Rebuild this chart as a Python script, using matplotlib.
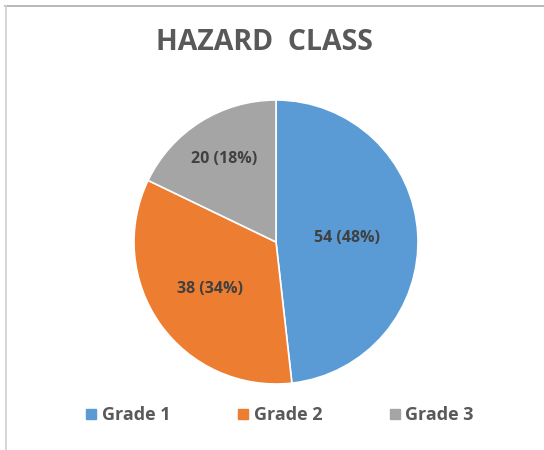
import numpy as np
import matplotlib.pyplot as plt
from matplotlib.lines import Line2D

# data
labels = ["Grade 1", "Grade 2", "Grade 3"]
values = [54, 38, 20]
colors = ["#5B9BD5", "#ED7D31", "#A5A5A5"]
label_dist = [0.5, 0.57, 0.69]

plt.rcParams['font.family'] = ['Open Sans', 'DejaVu Sans']

fig = plt.figure(figsize=(5.44, 4.5), dpi=100)
fig.patch.set_facecolor("white")

# chart frame (top and left edges visible)
fig.add_artist(Line2D([5/544, 1], [1-6/450, 1-6/450], color="#ABABAB", lw=1.2))
fig.add_artist(Line2D([5.5/544, 5.5/544], [0, 1-6/450], color="#D0D0D0", lw=1.2))

ax = fig.add_axes([134/544, 66/450, 284/544, 284/450])
wedges, _ = ax.pie(values, colors=colors, startangle=90, counterclock=False,
                   wedgeprops=dict(edgecolor="white", linewidth=1.2))
ax.set_xlim(-1, 1)
ax.set_ylim(-1, 1)
ax.set_aspect("equal")

total = sum(values)
for w, v, d in zip(wedges, values, label_dist):
    ang = np.deg2rad((w.theta1 + w.theta2) / 2)
    ax.text(d*np.cos(ang), d*np.sin(ang), f"{v} ({v/total*100:.0f}%)",
            ha="center", va="center", fontsize=11.5, fontweight="bold",
            color="#404040")

fig.text(264/544, 1-42/450, "HAZARD  CLASS", ha="center", va="center",
         fontsize=20.5, fontweight="bold", color="#595959")

handles = [Line2D([], [], marker="s", linestyle="none", markersize=7.5,
                  markerfacecolor=c, markeredgecolor=c) for c in colors]
leg = fig.legend(handles, labels, loc="center", bbox_to_anchor=(279/544, 1-415/450),
                 ncol=3, frameon=False, handletextpad=0.2, columnspacing=3.6,
                 handlelength=0.8, prop=dict(size=13, weight="bold"))
for t in leg.get_texts():
    t.set_color("#595959")

fig.savefig("out.png", dpi=100)
